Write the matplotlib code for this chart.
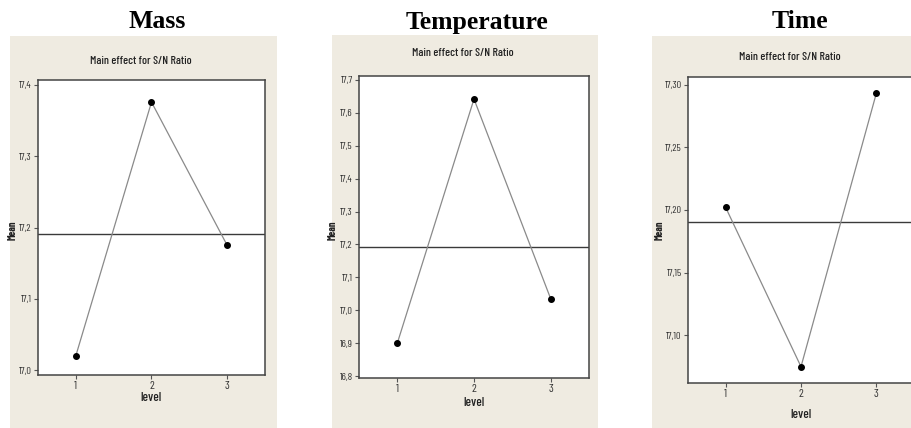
import matplotlib
matplotlib.use("Agg")
import matplotlib.pyplot as plt
from matplotlib.patches import Rectangle

# Data
levels = [1, 2, 3]
mass_sn = [17.020, 17.376, 17.175]
temp_sn = [16.900, 17.642, 17.035]
time_sn = [17.202, 17.075, 17.293]

mass_yticks = [17.0, 17.1, 17.2, 17.3, 17.4]
mass_ylabels = ["17,0", "17,1", "17,2", "17,3", "17,4"]
temp_yticks = [16.8, 16.9, 17.0, 17.1, 17.2, 17.3, 17.4, 17.5, 17.6, 17.7]
temp_ylabels = ["16,8", "16,9", "17,0", "17,1", "17,2", "17,3", "17,4", "17,5", "17,6", "17,7"]
time_yticks = [17.10, 17.15, 17.20, 17.25, 17.30]
time_ylabels = ["17,10", "17,15", "17,20", "17,25", "17,30"]

titles = ["Mass", "Temperature", "Time"]
subtitle = "Main effect for S/N Ratio"

W, H = 912, 428
BEIGE = "#efebe1"
NARROW = ["Barlow Condensed", "Archivo Narrow", "DejaVu Sans"]

fig = plt.figure(figsize=(W / 100, H / 100), dpi=100)
fig.patch.set_facecolor("white")


def px_rect(x0, x1, y0, y1):
    # pixel box (top-left origin) -> figure fraction [l, b, w, h]
    return [x0 / W, (H - y1) / H, (x1 - x0) / W, (y1 - y0) / H]


# panel backgrounds, axes boxes, text positions (pixels)
panels = [
    dict(bg=(10, 277, 36, 428), ax=(38, 265, 80, 375), ylim=(16.993, 17.407),
         title_x=157, sub_y=61, lvl_y=398, mean_x=13,
         data=mass_sn, yt=mass_yticks, yl=mass_ylabels),
    dict(bg=(332, 598, 35, 428), ax=(359, 589, 76, 378), ylim=(16.794, 17.712),
         title_x=477, sub_y=53, lvl_y=403, mean_x=333,
         data=temp_sn, yt=temp_yticks, yl=temp_ylabels),
    dict(bg=(652, 912, 36, 428), ax=(688, 914, 77, 383), ylim=(17.062, 17.306),
         title_x=800, sub_y=57, lvl_y=415, mean_x=660,
         data=time_sn, yt=time_yticks, yl=time_ylabels),
]

for p, title in zip(panels, titles):
    x0, x1, y0, y1 = p["bg"]
    fig.patches.append(Rectangle((x0 / W, (H - y1) / H), (x1 - x0) / W, (y1 - y0) / H,
                                 transform=fig.transFigure, facecolor=BEIGE,
                                 edgecolor="none", zorder=-5))

    ax = fig.add_axes(px_rect(*p["ax"]))
    ax.set_facecolor("white")
    ax.plot(levels, p["data"], color="#8a8a8a", lw=0.9, zorder=2)
    ax.plot(levels, p["data"], linestyle="none", marker="o", ms=4,
            color="black", zorder=3)
    mean_val = sum(p["data"]) / len(p["data"])
    ax.axhline(mean_val, color="#3a3a3a", lw=1.0, zorder=1)

    ax.set_xlim(0.5, 3.5)
    ax.set_ylim(*p["ylim"])
    ax.set_xticks(levels)
    ax.set_xticklabels([str(v) for v in levels], family=NARROW, fontsize=8.5,
                       color="#333333")
    ax.set_yticks(p["yt"])
    ax.set_yticklabels(p["yl"], family=NARROW, fontsize=7.5, color="#333333")
    ax.tick_params(axis="both", direction="out", length=3, width=0.8,
                   color="#555555", pad=1.5)
    for s in ax.spines.values():
        s.set_color("#444444")
        s.set_linewidth(1.1)

    fig.text(p["title_x"] / W, 1 - 22 / H, title, family="Liberation Serif",
             fontweight="bold", fontsize=18.5, ha="center", va="center")
    axc = (p["ax"][0] + p["ax"][1]) / 2
    fig.text((axc - 11) / W, 1 - p["sub_y"] / H, subtitle, family=NARROW,
             fontsize=8.5, fontweight="medium", ha="center", va="center",
             color="#222222")
    fig.text(axc / W, 1 - p["lvl_y"] / H, "level", family=NARROW,
             fontsize=9.5, fontweight="medium", ha="center", va="center",
             color="#222222")
    fig.text(p["mean_x"] / W, 1 - 230 / H, "Mean", family=NARROW,
             fontsize=7.5, fontweight="bold", rotation=90, ha="center",
             va="center", color="#222222")

fig.savefig("out.png", dpi=100)
